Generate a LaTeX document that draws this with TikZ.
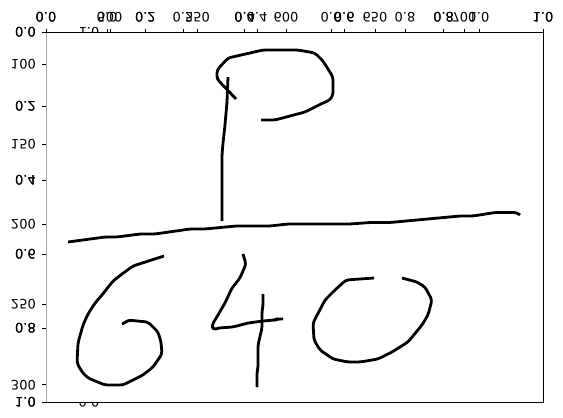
\documentclass[tikz,border=0pt]{standalone}
\usepackage{graphicx}
\usepackage{fontspec}
\setmainfont{DejaVu Sans}
\newcommand{\flipv}[1]{\scalebox{1}[-1]{#1}}
\tikzset{
  ticklab/.style={font=\fontsize{13}{14}\selectfont, inner sep=0pt, text=black},
  leftlab/.style={ticklab, anchor=east},
  tickmark/.style={line width=0.9pt, black},
  spine/.style={line width=1pt, black},
  inkstroke/.style={line width=2.8pt, black, line join=round, line cap=butt, rounded corners=3pt},
}
\begin{document}
\begin{tikzpicture}[x=1pt,y=-1pt]
\useasboundingbox (0,0) rectangle (563,418);
% half-hidden labels of the inner axis
\node[ticklab] (innerTop) at (89,32) {\flipv{1.0}};
\node[ticklab] (innerBot) at (89,402) {\flipv{0.0}};
\fill[white] (46,32) rectangle (543,402);
% frame
\draw[line width=1pt, gray!70] (46,32) -- (46,402);
\draw[spine] (46,32) -- (543,32) -- (543,402) -- (46,402);
% top ticks: main 0-1
\foreach \p/\t [count=\i] in {46/0.0,145.4/0.2,244.8/0.4,344.2/0.6,443.6/0.8,543/1.0}{
  \draw[tickmark] (\p,28.5) -- (\p,32);
  \node[ticklab] (topa\i) at (\p,17.5) {\flipv{\t}};
  \node[ticklab] (topb\i) at (\p,17.5) {\flipv{\t}};
}
\foreach \p/\t [count=\i] in {107/0.0,183/0.2,257/0.4,331/0.6,405/0.8,479/1.0}{
  \draw[tickmark] (\p,28.5) -- (\p,32);
  \node[ticklab] (topc\i) at (\p,17.5) {\flipv{\t}};
}
\foreach \p/\t [count=\i] in {110/500,197.5/550,286/600,375/650,464/700}{
  \draw[tickmark] (\p,28.5) -- (\p,32);
  \node[ticklab] (topd\i) at (\p,17.5) {\flipv{\t}};
}
% left ticks
\foreach \p/\t [count=\i] in {32/0.0,106/0.2,180/0.4,254/0.6,328/0.8,402/1.0}{
  \draw[tickmark] (41.5,\p) -- (46,\p);
  \node[leftlab] (lefta\i) at (36,\p) {\flipv{\t}};
  \node[leftlab] (leftb\i) at (36,\p) {\flipv{\t}};
}
\foreach \p/\t [count=\i] in {64/100,144.2/150,224.4/200,304.6/250,384.8/300}{
  \draw[tickmark] (41.5,\p) -- (46,\p);
  \node[leftlab] (leftc\i) at (36,\p) {\flipv{\t}};
}
% P stem
\draw[inkstroke] (228,77) -- (227,102) -- (225,125) -- (223,143) -- (222,155) -- (222,221);
% P loop
\draw[inkstroke] (236,99) -- (217,79) -- (217,70) -- (228,58) -- (263,50) -- (298,50) -- (315,53) -- (323,61) -- (333,77) -- (333,95) -- (330,100) -- (323,103) -- (305,112) -- (275,120) -- (261,120);
% long line
\draw[inkstroke] (68,242) -- (105,237) -- (117,237) -- (140,234) -- (155,234) -- (190,229) -- (205,229) -- (236,226) -- (270,226) -- (288,224) -- (350,224) -- (370,222.5) -- (390,222.5) -- (460,216) -- (473,216) -- (495,212.5) -- (517,212.5) -- (520,215);
% 6
\draw[inkstroke] (164,256) -- (133,266) -- (122,274) -- (113,281) -- (102,295) -- (95,303) -- (88,314) -- (83,325) -- (78,343) -- (77,363) -- (82,372) -- (88,378) -- (105,385) -- (123,385) -- (143,375) -- (153,367) -- (162,354) -- (161,342) -- (158,332) -- (148,322) -- (137,321) -- (128,320) -- (125,323) -- (122,324);
% 4
\draw[inkstroke] (243,254) -- (246,264) -- (240,278) -- (232,288) -- (225,303) -- (218,315) -- (212,325) -- (213,330) -- (218,328) -- (233,327) -- (248,323) -- (263,321) -- (275,320) -- (277,319) -- (283,319);
\draw[inkstroke] (263,294) -- (263,305) -- (262,312) -- (262,328) -- (258,345) -- (258,368) -- (257,372) -- (257,387);
% 0
\draw[inkstroke] (374,278) -- (346,280) -- (335,290) -- (325,300) -- (313,323) -- (314,340) -- (320,350) -- (333,359) -- (348,362) -- (360,362) -- (378,359) -- (392,352) -- (408,342) -- (422,325) -- (428,315) -- (432,300) -- (425,287) -- (417,282) -- (402,278);
\end{tikzpicture}
\end{document}
